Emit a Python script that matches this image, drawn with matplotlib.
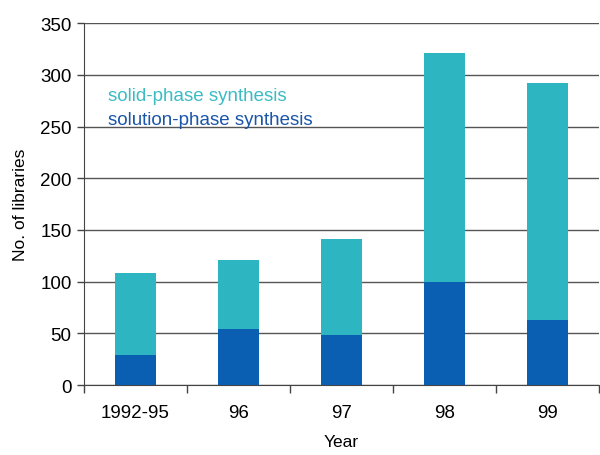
import matplotlib.pyplot as plt
import numpy as np

plt.rcParams['font.family'] = ['Liberation Sans', 'DejaVu Sans']

years = ["1992-95", "96", "97", "98", "99"]
solution_phase = [29, 54, 48, 100, 63]
total_libraries = [108, 121, 141, 321, 292]
solid_phase = [t - s for t, s in zip(total_libraries, solution_phase)]

teal = "#2db6c2"
blue = "#0a5fb2"

fig = plt.figure(figsize=(6, 4.56), dpi=100)
ax = fig.add_axes([0.14, 0.1535, 0.858, 0.7935])

x = np.arange(len(years))
ax.bar(x, solution_phase, width=0.4, color=blue, zorder=3)
ax.bar(x, solid_phase, width=0.4, bottom=solution_phase, color=teal, zorder=3)

ax.set_xlim(-0.5, len(years) - 0.5)
ax.set_ylim(0, 350)
ax.set_yticks(range(0, 351, 50))
ax.yaxis.grid(True, color="#555555", linewidth=1.0, zorder=0)

# category boundaries carry the tick marks, labels sit under the bars
ax.set_xticks(np.arange(-0.5, len(years)), labels=[])
ax.set_xticks(x, labels=years, minor=True)
ax.tick_params(axis="x", which="major", length=6, color="#444444", width=1)
ax.tick_params(axis="x", which="minor", length=0, pad=14, labelsize=13.5)
ax.tick_params(axis="y", length=5, color="#444444", width=1, labelsize=13.5, pad=4)

for side in ("top", "right"):
    ax.spines[side].set_visible(False)
for side in ("left", "bottom"):
    ax.spines[side].set_color("#444444")

ax.set_ylabel("No. of libraries", fontsize=12.5, labelpad=9)
ax.set_xlabel("Year", fontsize=12.5, labelpad=9)

ax.text(0.047, 0.80, "solid-phase synthesis", color="#3bbcc2", fontsize=13.5,
        transform=ax.transAxes, va="center")
ax.text(0.047, 0.733, "solution-phase synthesis", color="#1a55aa", fontsize=13.5,
        transform=ax.transAxes, va="center")

fig.savefig("out.png", dpi=100)
